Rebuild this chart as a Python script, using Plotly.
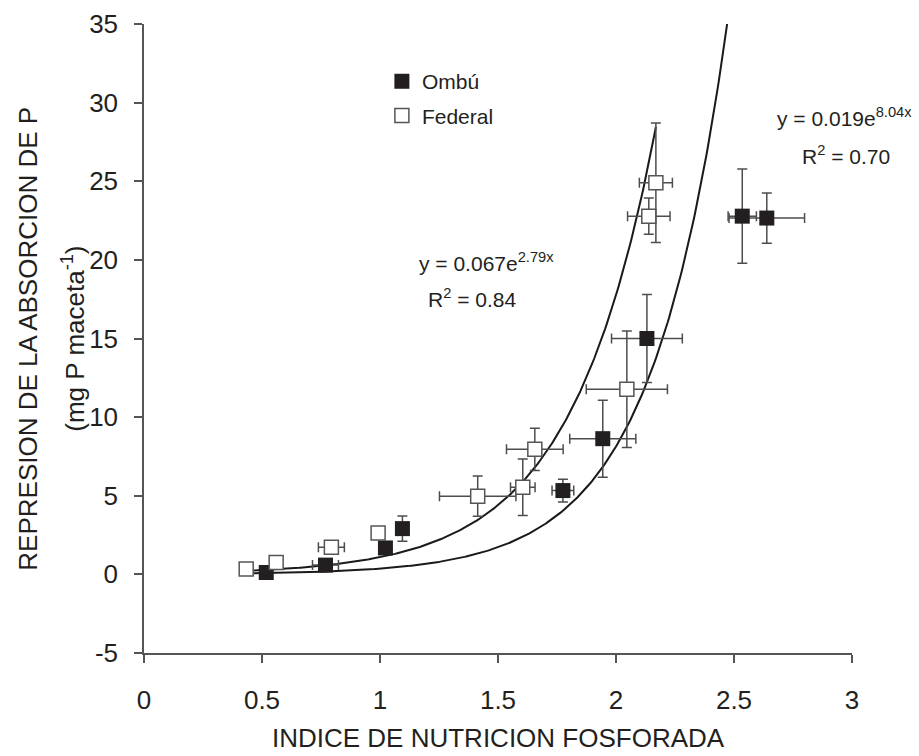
import plotly.graph_objects as go
import numpy as np

# ---- data ----
ombu_x = [0.518, 0.769, 1.023, 1.095, 1.775, 1.944, 2.131, 2.535, 2.639]
ombu_y = [0.12, 0.59, 1.68, 2.91, 5.33, 8.63, 15.0, 22.78, 22.66]
ombu_ex = [0.0, 0.055, 0.0, 0.0, 0.046, 0.14, 0.15, 0.06, 0.16]
ombu_ey = [0.0, 0.0, 0.0, 0.8, 0.72, 2.45, 2.8, 3.0, 1.6]

fed_x = [0.433, 0.56, 0.794, 0.992, 1.414, 1.605, 1.656, 2.046, 2.139, 2.169]
fed_y = [0.34, 0.76, 1.72, 2.63, 4.97, 5.54, 7.95, 11.77, 22.78, 24.9]
fed_ex = [0.0, 0.0, 0.055, 0.0, 0.162, 0.052, 0.12, 0.172, 0.09, 0.07]
fed_ey = [0.0, 0.0, 0.0, 0.0, 1.28, 1.8, 1.35, 3.7, 1.15, 3.8]

# exponential trend lines (fit parameters; x-span of each drawn line)
fit_fed = dict(a=0.067, b=2.79, x0=0.43, x1=2.169)
fit_ombu = dict(a=0.0165, b=3.1, x0=0.43, x1=2.471)

eq_fed = ["y = 0.067e<sup>2.79x</sup>", "R<sup>2</sup> = 0.84"]
eq_ombu = ["y = 0.019e<sup>8.04x</sup>", "R<sup>2</sup> = 0.70"]

x_ticks = [0, 0.5, 1, 1.5, 2, 2.5, 3]
y_ticks = [-5, 0, 5, 10, 15, 20, 25, 30, 35]

y_title = ["REPRESION DE LA ABSORCION DE P", "(mg P maceta<sup>-1</sup>)"]
x_title = "INDICE DE NUTRICION FOSFORADA"

FONT = "Liberation Sans, Arial, sans-serif"
TXT = "#231f20"
ERRC = "#4d4d4d"
AXC = "#555555"

fig = go.Figure()

for fit in (fit_fed, fit_ombu):
    xs = np.linspace(fit["x0"], fit["x1"], 300)
    fig.add_trace(go.Scatter(x=xs, y=fit["a"] * np.exp(fit["b"] * xs), mode="lines",
                             line=dict(color="#1a1a1a", width=2), showlegend=False,
                             hoverinfo="skip"))

fig.add_trace(go.Scatter(
    x=ombu_x, y=ombu_y, mode="markers", name="Ombú",
    marker=dict(symbol="square", size=15, color=TXT, line=dict(width=0)),
    error_x=dict(type="data", array=ombu_ex, color=ERRC, thickness=1.5, width=5),
    error_y=dict(type="data", array=ombu_ey, color=ERRC, thickness=1.5, width=5),
    legendgroup="a"))

fig.add_trace(go.Scatter(
    x=fed_x, y=fed_y, mode="markers", name="Federal",
    marker=dict(symbol="square", size=14, color="white", line=dict(width=1.5, color=AXC)),
    error_x=dict(type="data", array=fed_ex, color=ERRC, thickness=1.5, width=5),
    error_y=dict(type="data", array=fed_ey, color=ERRC, thickness=1.5, width=5),
    legendgroup="b"))

ann_font = dict(family=FONT, size=21, color=TXT)
annotations = [
    dict(x=1.156, y=19.85, text=eq_fed[0]),
    dict(x=1.193, y=17.6, text=eq_fed[1]),
    dict(x=2.672, y=29.1, text=eq_ombu[0]),
    dict(x=2.778, y=26.7, text=eq_ombu[1]),
]
for a in annotations:
    a.update(xref="x", yref="y", xanchor="left", yanchor="middle", showarrow=False, font=ann_font)

title_font = dict(family=FONT, size=26, color=TXT)
annotations += [
    dict(x=-0.165, y=0.5, xref="paper", yref="paper", text=y_title[0], textangle=-90,
         showarrow=False, xanchor="center", yanchor="middle", font=title_font),
    dict(x=-0.100, y=0.5, xref="paper", yref="paper", text=y_title[1], textangle=-90,
         showarrow=False, xanchor="center", yanchor="middle", font=title_font),
    dict(x=0.5, y=-0.1356, xref="paper", yref="paper", text=x_title,
         showarrow=False, xanchor="center", yanchor="middle", font=title_font),
]

fig.update_layout(
    width=919, height=756,
    margin=dict(l=136, r=75, t=16, b=111),
    plot_bgcolor="white", paper_bgcolor="white",
    font=dict(family=FONT, size=22, color=TXT),
    showlegend=True,
    legend=dict(x=0.336, y=0.941, xanchor="left", yanchor="top", bgcolor="rgba(0,0,0,0)",
                font=dict(size=21), itemwidth=30, traceorder="grouped", tracegroupgap=4),
    annotations=annotations,
    xaxis=dict(range=[0, 3], tickvals=x_ticks, ticktext=[str(v) for v in x_ticks],
               showline=True, linecolor=AXC, linewidth=1.5, ticks="outside",
               ticklen=8, tickcolor=AXC, tickwidth=1.5, showgrid=False, zeroline=False,
               tickfont=dict(size=26), ticklabelstandoff=15, automargin=False),
    yaxis=dict(range=[-5, 35], tickvals=y_ticks, ticktext=[str(v) for v in y_ticks],
               showline=True, linecolor=AXC, linewidth=1.5, ticks="outside",
               ticklen=8, tickcolor=AXC, tickwidth=1.5, showgrid=False, zeroline=False,
               tickfont=dict(size=26), ticklabelstandoff=11, automargin=False),
)

fig.write_html("out.html")
